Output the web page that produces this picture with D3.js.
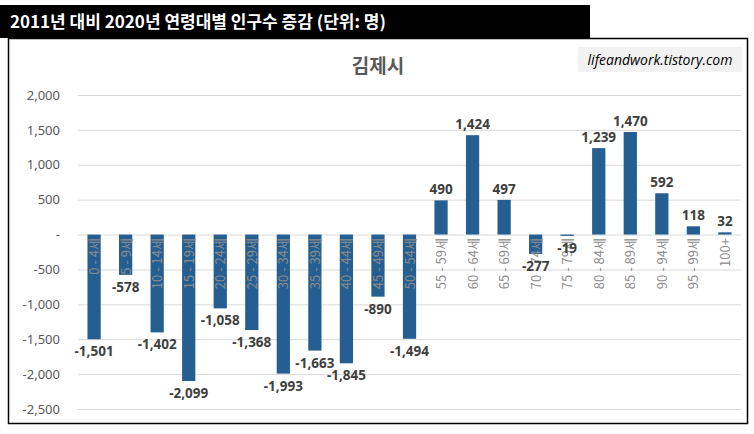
<!DOCTYPE html>
<html><head><meta charset="utf-8">
<script src="https://cdn.jsdelivr.net/npm/d3@7"></script>
<style>body{margin:0;background:#fff;font-family:"Noto Sans CJK KR","Noto Sans",sans-serif}</style>
</head><body><div id="svg"></div>
<script>
var categories = ["0 - 4세","5 - 9세","10 - 14세","15 - 19세","20 - 24세","25 - 29세","30 - 34세","35 - 39세","40 - 44세","45 - 49세","50 - 54세","55 - 59세","60 - 64세","65 - 69세","70 - 74세","75 - 79세","80 - 84세","85 - 89세","90 - 94세","95 - 99세","100+"];
var values = [-1501,-578,-1402,-2099,-1058,-1368,-1993,-1663,-1845,-890,-1494,490,1424,497,-277,-19,1239,1470,592,118,32];
var yTicks = [2000,1500,1000,500,0,-500,-1000,-1500,-2000,-2500];

var W = 754, H = 434;
var fmt = d => d3.format(',')(d).replace('\u2212', '-');
var svg = d3.select('#svg').append('svg').attr('width', W).attr('height', H);

// header bar
svg.append('rect').attr('x', 0).attr('y', 5).attr('width', 590).attr('height', 33).attr('fill', '#000');
svg.append('text').attr('x', 10).attr('y', 28).attr('fill', '#fff')
  .attr('font-size', 17).attr('font-weight', 'bold').text('2011년 대비 2020년 연령대별 인구수 증감 (단위: 명)');

// chart frame
svg.append('rect').attr('x', 8.5).attr('y', 38.5).attr('width', 739).attr('height', 385)
  .attr('fill', 'none').attr('stroke', '#000').attr('stroke-width', 1.5);

svg.append('text').attr('x', 378).attr('y', 73).attr('text-anchor', 'middle')
  .attr('fill', '#595959').attr('font-size', 19).attr('font-weight', 'bold').text('김제시');

svg.append('rect').attr('x', 578).attr('y', 47).attr('width', 164).attr('height', 25).attr('fill', '#f2f2f2');
svg.append('text').attr('x', 660).attr('y', 65).attr('text-anchor', 'middle').attr('font-style', 'italic')
  .attr('font-family', '"Open Sans",sans-serif').attr('font-size', 14).attr('fill', '#000').text('lifeandwork.tistory.com');

var y = d3.scaleLinear().domain([-2500, 2000]).range([409, 95]);
var x = d3.scaleBand().domain(categories).range([78, 741]).paddingInner(0.58).paddingOuter(0.3);

var g = svg.append('g');
g.selectAll('.grid').data(yTicks).enter().append('line')
  .attr('x1', 78).attr('x2', 741).attr('y1', d => y(d) + 0.5).attr('y2', d => y(d) + 0.5)
  .attr('stroke', '#d9d9d9');

var yAxis = d3.axisLeft(y).tickValues(yTicks).tickSize(0).tickPadding(0)
  .tickFormat(d => d === 0 ? '-' : fmt(d));
var ya = svg.append('g').attr('transform', 'translate(60,0)').call(yAxis);
ya.select('.domain').remove();
ya.selectAll('text').attr('fill', '#595959').attr('font-size', 13).attr('font-family', '"Noto Sans",sans-serif');

g.selectAll('.bar').data(values).enter().append('rect')
  .attr('x', (d, i) => x(categories[i])).attr('width', x.bandwidth())
  .attr('y', d => y(Math.max(0, d))).attr('height', d => Math.abs(y(d) - y(0)))
  .attr('fill', '#255e91');

g.selectAll('.cat').data(categories).enter().append('text')
  .attr('transform', d => 'translate(' + (x(d) + x.bandwidth() / 2 + 5) + ',' + 238 + ') rotate(-90)')
  .attr('text-anchor', 'end').attr('fill', '#8c8c8c').attr('font-size', 13)
  .text(d => d);

g.selectAll('.lbl').data(values).enter().append('text')
  .attr('x', (d, i) => x(categories[i]) + x.bandwidth() / 2)
  .attr('y', d => d >= 0 ? y(d) - 6 : y(d) + 17)
  .attr('text-anchor', 'middle').attr('fill', '#404040').attr('font-size', 13.5).attr('font-weight', 'bold')
  .attr('font-family', '"Noto Sans",sans-serif')
  .text(d => fmt(d));
</script></body></html>
